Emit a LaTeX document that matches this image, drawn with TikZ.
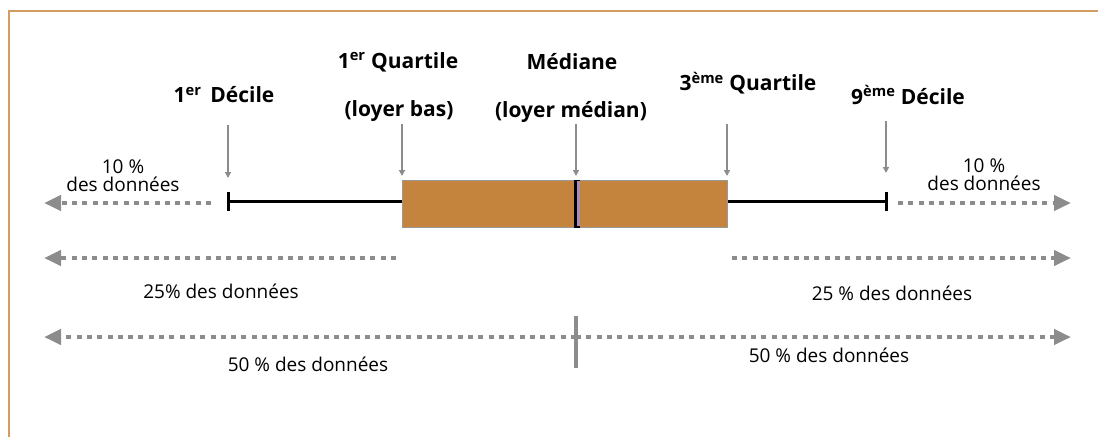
\documentclass[tikz,border=0pt]{standalone}
\usepackage{fontspec}
\setmainfont{Open Sans}
\usetikzlibrary{arrows.meta}
\definecolor{framecol}{RGB}{212,156,96}
\definecolor{boxfill}{RGB}{197,132,62}
\definecolor{arrgray}{RGB}{140,140,140}
\definecolor{medpurple}{RGB}{168,140,190}
\tikzset{
  head/.style={font=\fontsize{21}{23}\selectfont\bfseries, inner sep=0pt, anchor=center},
  pct/.style={font=\fontsize{19}{18}\selectfont, inner sep=0pt, anchor=center, align=center},
  pointer/.style={draw=arrgray, line width=1.5pt, -{Triangle[length=6pt,width=6pt]}},
  dotarrow/.style={draw=arrgray, line width=4.5pt, dash pattern=on 5pt off 5.3pt, -{Triangle[length=17pt,width=15pt,fill=arrgray]}},
  whisker/.style={draw=black, line width=3pt},
}
\begin{document}
\begin{tikzpicture}[x=1pt,y=-1pt]
\useasboundingbox (0,0) rectangle (1098,437);
\draw[framecol, line width=1.5pt] (1098,11) -- (9,11) -- (9,437);

% key positions
\coordinate (d1) at (228,201);
\coordinate (d9) at (886,201);

% box
\node[draw=gray!80, line width=0.8pt, fill=boxfill, minimum width=325pt, minimum height=47pt, inner sep=0pt, anchor=north west] (box) at (402,180) {};
\fill[black] (574.3,179.5) rectangle (580.3,227.5);
\fill[medpurple] (577.3,181.3) rectangle (580.3,225.7);

% whiskers
\draw[whisker] (d1) -- (d1 -| box.west);
\draw[whisker] (d9 -| box.east) -- (d9);
\draw[whisker] ([yshift=-9.5pt]d1) -- ([yshift=9.5pt]d1);
\draw[whisker] ([yshift=-9.5pt]d9) -- ([yshift=9.5pt]d9);

% headings
\node[head] (hd1) at (224,95) {1\textsuperscript{er}\, Décile};
\node[head] (hq1) at (398,62) {1\textsuperscript{er} Quartile};
\node[head] (hq1b) at (399,111) {(loyer bas)};
\node[head] (hm) at (572,62) {Médiane};
\node[head] (hmb) at (571,112) {(loyer médian)};
\node[head] (hq3) at (748,83) {3\textsuperscript{ème} Quartile};
\node[head] (hd9) at (908,95) {9\textsuperscript{ème} Décile};

% pointer arrows
\coordinate (pd1a) at (228,125); \coordinate (pd1b) at (228,178);
\coordinate (pq1a) at (402,124); \coordinate (pq1b) at (402,176);
\coordinate (pma) at (576,124);  \coordinate (pmb) at (576,176);
\coordinate (pq3a) at (727,124); \coordinate (pq3b) at (727,176);
\coordinate (pd9a) at (886,121); \coordinate (pd9b) at (886,173);
\draw[pointer] (pd1a) -- (pd1b);
\draw[pointer] (pq1a) -- (pq1b);
\draw[pointer] (pma) -- (pmb);
\draw[pointer] (pq3a) -- (pq3b);
\draw[pointer] (pd9a) -- (pd9b);

% 10% arrows
\coordinate (l10s) at (211,203); \coordinate (l10e) at (44,203);
\coordinate (r10s) at (898,203); \coordinate (r10e) at (1071,203);
\draw[dotarrow] (l10s) -- (l10e);
\draw[dotarrow] (r10s) -- (r10e);
\node[pct] (t10l) at (123,176) {10 \%\\des données};
\node[pct] (t10r) at (984,175) {10 \%\\des données};

% 25% arrows
\coordinate (l25s) at (396,258); \coordinate (l25e) at (44,258);
\coordinate (r25s) at (732,258); \coordinate (r25e) at (1071,258);
\draw[dotarrow] (l25s) -- (l25e);
\draw[dotarrow] (r25s) -- (r25e);
\node[pct] (t25l) at (221,291) {25\% des données};
\node[pct] (t25r) at (892,293) {25 \% des données};

% 50% arrows
\coordinate (mid) at (576,337);
\coordinate (l50e) at (44,337); \coordinate (r50e) at (1071,337);
\draw[dotarrow] (mid) -- (l50e);
\draw[dotarrow] (mid) -- (r50e);
\draw[arrgray, line width=4.5pt] ([yshift=-31pt]mid) -- ([yshift=21pt]mid);
\node[pct] (t50l) at (308,364) {50 \% des données};
\node[pct] (t50r) at (829,355) {50 \% des données};
\end{tikzpicture}
\end{document}
